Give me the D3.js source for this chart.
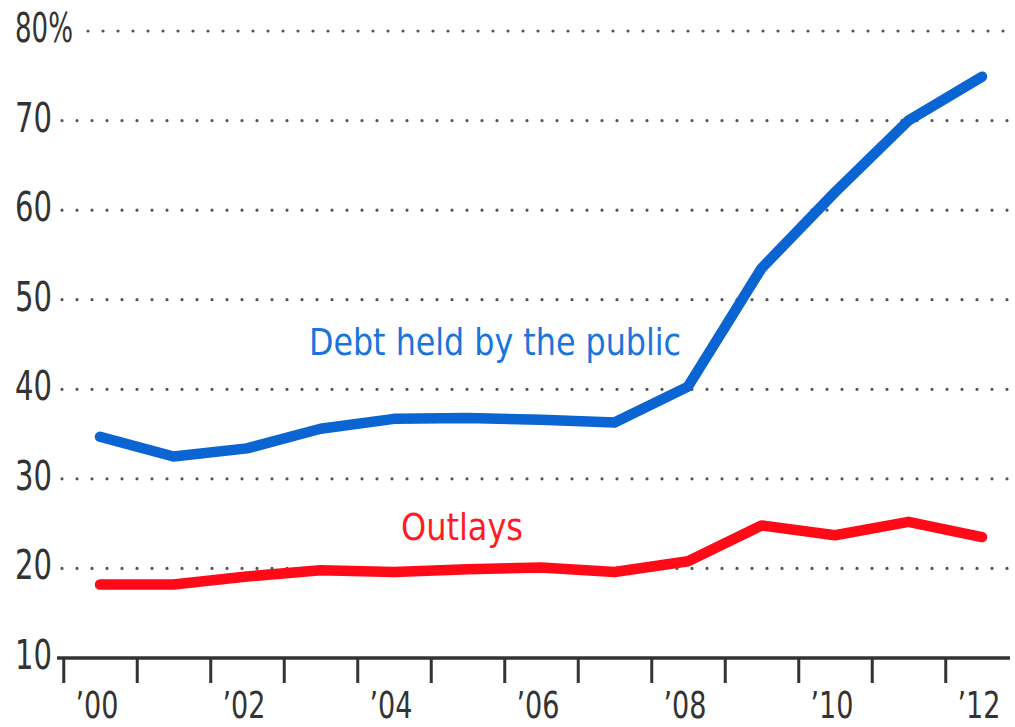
<!DOCTYPE html>
<html>
<head>
<meta charset="utf-8">
<script src="https://cdn.jsdelivr.net/npm/d3@7"></script>
<style>
  body { margin: 0; background: #fff; }
  text { font-family: "DejaVu Sans Condensed", "Noto Sans", sans-serif; }
</style>
</head>
<body>
<svg id="chart" width="1015" height="727"></svg>
<script>
// years and values, % of GDP
var years = [2000, 2001, 2002, 2003, 2004, 2005, 2006, 2007, 2008, 2009, 2010, 2011, 2012];
var debt = [34.7, 32.5, 33.4, 35.6, 36.7, 36.8, 36.6, 36.3, 40.3, 53.5, 62.0, 70.0, 74.9];
var outlays = [18.2, 18.2, 19.1, 19.8, 19.6, 19.9, 20.1, 19.6, 20.8, 24.8, 23.7, 25.2, 23.5];
var yTicks = [10, 20, 30, 40, 50, 60, 70, 80];
var yearLabels = ["’00", "’02", "’04", "’06", "’08", "’10", "’12"];

var svg = d3.select("#chart");

var x = d3.scaleLinear().domain([2000, 2012]).range([100, 982]);
var y = d3.scaleLinear().domain([10, 80]).range([658, 31]);

// dotted gridlines
svg.selectAll("line.grid")
  .data(yTicks.filter(d => d > 10))
  .enter().append("line")
  .classed("grid", true)
  .attr("x1", d => d == 80 ? 88 : 62)
  .attr("x2", 1010)
  .attr("y1", d => y(d))
  .attr("y2", d => y(d))
  .attr("stroke", "#555")
  .attr("stroke-width", 3.2)
  .attr("stroke-linecap", "round")
  .attr("stroke-dasharray", "0,15");

// y labels
svg.selectAll("text.ylab")
  .data(yTicks)
  .enter().append("text")
  .classed("ylab", true)
  .attr("x", 15)
  .attr("y", d => y(d) + 11)
  .attr("font-size", 41)
  .attr("fill", "#333")
  .attr("textLength", d => d == 80 ? 58 : 37)
  .attr("lengthAdjust", "spacingAndGlyphs")
  .text(d => d == 80 ? d + "%" : d);

// x axis, ticks at year boundaries
var xAxis = d3.axisBottom(x)
  .tickValues(years.map(d => d - 0.5))
  .tickSize(25)
  .tickSizeOuter(0)
  .tickFormat("");
var gx = svg.append("g")
  .attr("transform", "translate(0," + y(10) + ")")
  .call(xAxis);
gx.select(".domain").remove();
gx.selectAll(".tick line").attr("stroke", "#333").attr("stroke-width", 3);
gx.append("line")
  .attr("x1", 57).attr("x2", 1010)
  .attr("stroke", "#333").attr("stroke-width", 3.5);

svg.selectAll("text.xlab")
  .data(yearLabels)
  .enter().append("text")
  .classed("xlab", true)
  .attr("x", (d, i) => x(years[i * 2]) - 3)
  .attr("y", 718)
  .attr("text-anchor", "middle")
  .attr("font-size", 38)
  .attr("fill", "#333")
  .attr("textLength", 43)
  .attr("lengthAdjust", "spacingAndGlyphs")
  .text(d => d);

var line = d3.line()
  .x((d, i) => x(years[i]))
  .y(d => y(d));

svg.append("path")
  .datum(outlays)
  .attr("d", line)
  .attr("fill", "none")
  .attr("stroke", "#ff0a16")
  .attr("stroke-width", 10.5)
  .attr("stroke-linejoin", "round")
  .attr("stroke-linecap", "round");

svg.append("path")
  .datum(debt)
  .attr("d", line)
  .attr("fill", "none")
  .attr("stroke", "#0a64d2")
  .attr("stroke-width", 10.5)
  .attr("stroke-linejoin", "round")
  .attr("stroke-linecap", "round");

// series labels
svg.append("text")
  .attr("x", 309).attr("y", 355)
  .attr("font-size", 38)
  .attr("fill", "#1a74dc")
  .attr("textLength", 372)
  .attr("lengthAdjust", "spacingAndGlyphs")
  .text("Debt held by the public");

svg.append("text")
  .attr("x", 401).attr("y", 540)
  .attr("font-size", 38)
  .attr("fill", "#ff1a26")
  .attr("textLength", 122)
  .attr("lengthAdjust", "spacingAndGlyphs")
  .text("Outlays");
</script>
</body>
</html>
